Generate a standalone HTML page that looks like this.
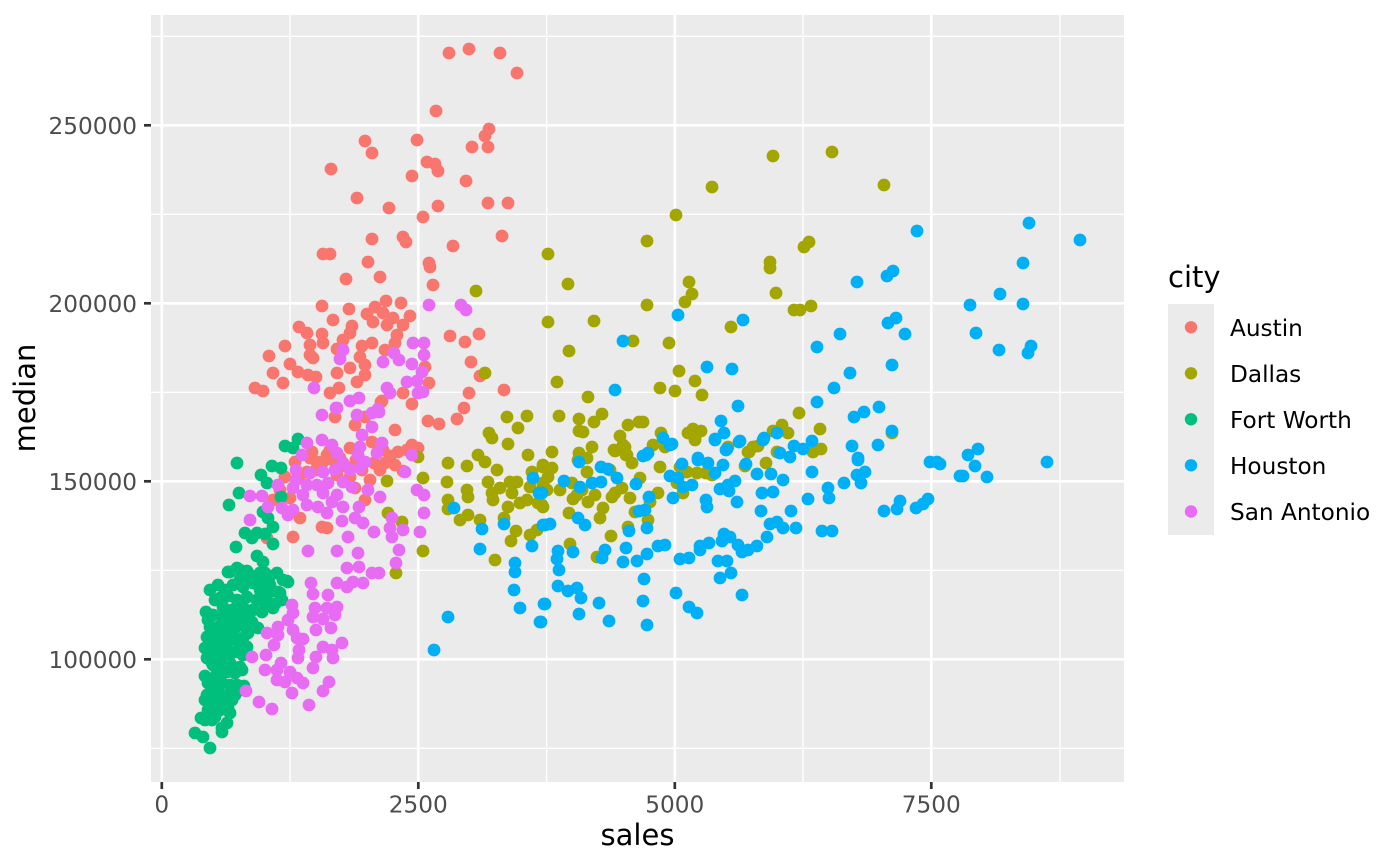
<!DOCTYPE html>
<html><head><meta charset="utf-8"><style>
html,body{margin:0;padding:0;background:#fff;}
svg{display:block;}
text{font-family:"DejaVu Sans","Liberation Sans",sans-serif;}
</style></head><body>
<svg width="1400" height="866" viewBox="0 0 1400 866" xmlns="http://www.w3.org/2000/svg">
<rect x="0" y="0" width="1400" height="866" fill="#fff"/>
<rect x="151" y="15" width="973" height="767" fill="#EBEBEB"/>
<g stroke="#fff" stroke-width="1.4">
<line x1="151" x2="1124" y1="36.3" y2="36.3"/><line x1="151" x2="1124" y1="214.3" y2="214.3"/><line x1="151" x2="1124" y1="392.3" y2="392.3"/><line x1="151" x2="1124" y1="570.3" y2="570.3"/><line x1="151" x2="1124" y1="748.3" y2="748.3"/>
<line y1="15" y2="782" x1="290" x2="290"/><line y1="15" y2="782" x1="546.6" x2="546.6"/><line y1="15" y2="782" x1="803" x2="803"/><line y1="15" y2="782" x1="1060" x2="1060"/>
</g>
<g stroke="#fff" stroke-width="2.7">
<line x1="151" x2="1124" y1="125.3" y2="125.3"/><line x1="151" x2="1124" y1="303.3" y2="303.3"/><line x1="151" x2="1124" y1="481.3" y2="481.3"/><line x1="151" x2="1124" y1="659.3" y2="659.3"/>
<line y1="15" y2="782" x1="161.8" x2="161.8"/><line y1="15" y2="782" x1="418.3" x2="418.3"/><line y1="15" y2="782" x1="674.8" x2="674.8"/><line y1="15" y2="782" x1="931.3" x2="931.3"/>
</g>
<g stroke="#333" stroke-width="2.7">
<line x1="144" x2="151" y1="125.3" y2="125.3"/><line x1="144" x2="151" y1="303.3" y2="303.3"/><line x1="144" x2="151" y1="481.3" y2="481.3"/><line x1="144" x2="151" y1="659.3" y2="659.3"/>
<line y1="782" y2="789" x1="161.8" x2="161.8"/><line y1="782" y2="789" x1="418.3" x2="418.3"/><line y1="782" y2="789" x1="674.8" x2="674.8"/><line y1="782" y2="789" x1="931.3" x2="931.3"/>
</g>
<g font-size="23.2" fill="#4D4D4D" text-anchor="end">
<text x="137" y="133.8">250000</text><text x="137" y="311.8">200000</text><text x="137" y="489.8">150000</text><text x="137" y="667.8">100000</text>
</g>
<g font-size="23.2" fill="#4D4D4D" text-anchor="middle">
<text x="161.8" y="812.7">0</text><text x="418.3" y="812.7">2500</text><text x="674.8" y="812.7">5000</text><text x="931.3" y="812.7">7500</text>
</g>
<text x="637.5" y="845" font-size="29" text-anchor="middle" fill="#000">sales</text>
<text transform="translate(35,398) rotate(-90)" font-size="29" text-anchor="middle" fill="#000">median</text>

<g fill="#F8766D">
<circle cx="449" cy="53" r="6.4"/><circle cx="469" cy="49" r="6.4"/><circle cx="500" cy="53" r="6.4"/><circle cx="517" cy="73" r="6.4"/><circle cx="436" cy="111" r="6.4"/><circle cx="489" cy="129" r="6.4"/><circle cx="485" cy="136" r="6.4"/><circle cx="472" cy="147" r="6.4"/><circle cx="488" cy="147" r="6.4"/><circle cx="365" cy="141" r="6.4"/><circle cx="372" cy="153" r="6.4"/><circle cx="417" cy="140" r="6.4"/><circle cx="331" cy="169" r="6.4"/><circle cx="427" cy="162" r="6.4"/><circle cx="435" cy="164" r="6.4"/><circle cx="438" cy="171" r="6.4"/><circle cx="412" cy="176" r="6.4"/><circle cx="466" cy="181" r="6.4"/><circle cx="357" cy="198" r="6.4"/><circle cx="389" cy="208" r="6.4"/><circle cx="438" cy="206" r="6.4"/><circle cx="423" cy="217" r="6.4"/><circle cx="488" cy="203" r="6.4"/><circle cx="508" cy="203" r="6.4"/><circle cx="372" cy="239" r="6.4"/><circle cx="403" cy="237" r="6.4"/><circle cx="406" cy="242" r="6.4"/><circle cx="453" cy="246" r="6.4"/><circle cx="502" cy="236" r="6.4"/><circle cx="323" cy="254" r="6.4"/><circle cx="330" cy="254" r="6.4"/><circle cx="368" cy="262" r="6.4"/><circle cx="429" cy="263" r="6.4"/><circle cx="430" cy="267" r="6.4"/><circle cx="346" cy="279" r="6.4"/><circle cx="380" cy="277" r="6.4"/><circle cx="433" cy="285" r="6.4"/>
<circle cx="322" cy="306" r="6.4"/><circle cx="349" cy="309" r="6.4"/><circle cx="375" cy="307" r="6.4"/><circle cx="386" cy="301" r="6.4"/><circle cx="401" cy="303" r="6.4"/><circle cx="333" cy="320" r="6.4"/><circle cx="367" cy="314" r="6.4"/><circle cx="383" cy="313" r="6.4"/><circle cx="393" cy="318" r="6.4"/><circle cx="410" cy="316" r="6.4"/><circle cx="373" cy="322" r="6.4"/><circle cx="387" cy="325" r="6.4"/><circle cx="403" cy="325" r="6.4"/><circle cx="352" cy="326" r="6.4"/><circle cx="350" cy="333" r="6.4"/><circle cx="299" cy="327" r="6.4"/><circle cx="307" cy="333" r="6.4"/><circle cx="322" cy="334" r="6.4"/><circle cx="397" cy="335" r="6.4"/><circle cx="395" cy="343" r="6.4"/><circle cx="372" cy="343" r="6.4"/><circle cx="362" cy="346" r="6.4"/><circle cx="343" cy="340" r="6.4"/><circle cx="337" cy="349" r="6.4"/><circle cx="323" cy="343" r="6.4"/><circle cx="310" cy="345" r="6.4"/><circle cx="285" cy="346" r="6.4"/><circle cx="269" cy="356" r="6.4"/><circle cx="310" cy="355" r="6.4"/><circle cx="313" cy="358" r="6.4"/><circle cx="360" cy="357" r="6.4"/><circle cx="365" cy="365" r="6.4"/><circle cx="350" cy="368" r="6.4"/><circle cx="385" cy="350" r="6.4"/><circle cx="290" cy="364" r="6.4"/><circle cx="298" cy="372" r="6.4"/><circle cx="273" cy="373" r="6.4"/><circle cx="308" cy="375" r="6.4"/><circle cx="316" cy="377" r="6.4"/><circle cx="337" cy="373" r="6.4"/><circle cx="357" cy="382" r="6.4"/><circle cx="365" cy="375" r="6.4"/><circle cx="283" cy="383" r="6.4"/><circle cx="255" cy="388" r="6.4"/><circle cx="263" cy="391" r="6.4"/><circle cx="330" cy="393" r="6.4"/><circle cx="339" cy="388" r="6.4"/><circle cx="382" cy="401" r="6.4"/><circle cx="403" cy="393" r="6.4"/><circle cx="412" cy="404" r="6.4"/><circle cx="425" cy="367" r="6.4"/><circle cx="429" cy="383" r="6.4"/><circle cx="450" cy="336" r="6.4"/><circle cx="465" cy="342" r="6.4"/><circle cx="479" cy="334" r="6.4"/><circle cx="471" cy="362" r="6.4"/><circle cx="480" cy="376" r="6.4"/><circle cx="469" cy="393" r="6.4"/><circle cx="504" cy="390" r="6.4"/><circle cx="464" cy="408" r="6.4"/>
<circle cx="335" cy="417" r="6.4"/><circle cx="355" cy="425" r="6.4"/><circle cx="381" cy="402" r="6.4"/><circle cx="428" cy="421" r="6.4"/><circle cx="439" cy="424" r="6.4"/><circle cx="457" cy="419" r="6.4"/><circle cx="365" cy="417" r="6.4"/><circle cx="350" cy="448" r="6.4"/><circle cx="372" cy="442" r="6.4"/><circle cx="383" cy="450" r="6.4"/><circle cx="385" cy="463" r="6.4"/><circle cx="407" cy="450" r="6.4"/><circle cx="412" cy="445" r="6.4"/><circle cx="418" cy="448" r="6.4"/><circle cx="403" cy="471" r="6.4"/><circle cx="310" cy="458" r="6.4"/><circle cx="317" cy="462" r="6.4"/><circle cx="320" cy="467" r="6.4"/><circle cx="327" cy="455" r="6.4"/><circle cx="307" cy="472" r="6.4"/><circle cx="285" cy="477" r="6.4"/><circle cx="365" cy="500" r="6.4"/><circle cx="300" cy="518" r="6.4"/><circle cx="322" cy="527" r="6.4"/><circle cx="327" cy="528" r="6.4"/><circle cx="293" cy="537" r="6.4"/><circle cx="267" cy="538" r="6.4"/><circle cx="273" cy="500" r="6.4"/><circle cx="350" cy="477" r="6.4"/><circle cx="337" cy="475" r="6.4"/>
<circle cx="316" cy="470" r="6.4"/><circle cx="323" cy="462" r="6.4"/><circle cx="333" cy="460" r="6.4"/><circle cx="340" cy="458" r="6.4"/><circle cx="345" cy="466" r="6.4"/><circle cx="356" cy="460" r="6.4"/><circle cx="362" cy="470" r="6.4"/><circle cx="374" cy="463" r="6.4"/><circle cx="390" cy="456" r="6.4"/><circle cx="398" cy="452" r="6.4"/><circle cx="330" cy="450" r="6.4"/><circle cx="312" cy="452" r="6.4"/><circle cx="295" cy="462" r="6.4"/><circle cx="300" cy="475" r="6.4"/><circle cx="280" cy="490" r="6.4"/><circle cx="290" cy="498" r="6.4"/><circle cx="355" cy="488" r="6.4"/><circle cx="370" cy="480" r="6.4"/><circle cx="380" cy="470" r="6.4"/><circle cx="395" cy="465" r="6.4"/><circle cx="395" cy="430" r="6.4"/>
</g>

<g fill="#A3A500">
<circle cx="548" cy="254" r="6.4"/><circle cx="476" cy="291" r="6.4"/><circle cx="548" cy="322" r="6.4"/><circle cx="485" cy="373" r="6.4"/>
<circle cx="387" cy="481" r="6.4"/><circle cx="418" cy="457" r="6.4"/><circle cx="423" cy="478" r="6.4"/><circle cx="388" cy="513" r="6.4"/><circle cx="402" cy="522" r="6.4"/><circle cx="423" cy="551" r="6.4"/><circle cx="396" cy="573" r="6.4"/><circle cx="448" cy="463" r="6.4"/><circle cx="467" cy="466" r="6.4"/><circle cx="478" cy="455" r="6.4"/><circle cx="485" cy="462" r="6.4"/><circle cx="489" cy="433" r="6.4"/><circle cx="492" cy="438" r="6.4"/><circle cx="507" cy="417" r="6.4"/><circle cx="527" cy="416" r="6.4"/><circle cx="518" cy="428" r="6.4"/><circle cx="508" cy="444" r="6.4"/><circle cx="528" cy="455" r="6.4"/><circle cx="497" cy="470" r="6.4"/><circle cx="532" cy="472" r="6.4"/><circle cx="543" cy="467" r="6.4"/><circle cx="447" cy="482" r="6.4"/><circle cx="488" cy="482" r="6.4"/><circle cx="510" cy="482" r="6.4"/><circle cx="517" cy="482" r="6.4"/><circle cx="467" cy="490" r="6.4"/><circle cx="468" cy="497" r="6.4"/><circle cx="492" cy="493" r="6.4"/><circle cx="500" cy="488" r="6.4"/><circle cx="512" cy="493" r="6.4"/><circle cx="530" cy="487" r="6.4"/><circle cx="543" cy="483" r="6.4"/><circle cx="448" cy="500" r="6.4"/><circle cx="448" cy="509" r="6.4"/><circle cx="493" cy="500" r="6.4"/><circle cx="508" cy="507" r="6.4"/><circle cx="520" cy="503" r="6.4"/><circle cx="527" cy="500" r="6.4"/><circle cx="538" cy="503" r="6.4"/><circle cx="543" cy="507" r="6.4"/><circle cx="460" cy="520" r="6.4"/><circle cx="468" cy="515" r="6.4"/><circle cx="480" cy="520" r="6.4"/><circle cx="504" cy="518" r="6.4"/><circle cx="516" cy="531" r="6.4"/><circle cx="511" cy="541" r="6.4"/><circle cx="530" cy="535" r="6.4"/><circle cx="537" cy="530" r="6.4"/><circle cx="495" cy="560" r="6.4"/>
<circle cx="773" cy="156" r="6.4"/><circle cx="832" cy="152" r="6.4"/><circle cx="884" cy="185" r="6.4"/><circle cx="712" cy="187" r="6.4"/><circle cx="676" cy="215" r="6.4"/><circle cx="647" cy="241" r="6.4"/><circle cx="809" cy="242" r="6.4"/><circle cx="804" cy="247" r="6.4"/><circle cx="770" cy="262" r="6.4"/><circle cx="770" cy="268" r="6.4"/><circle cx="568" cy="284" r="6.4"/><circle cx="689" cy="282" r="6.4"/><circle cx="692" cy="294" r="6.4"/><circle cx="685" cy="302" r="6.4"/><circle cx="776" cy="293" r="6.4"/><circle cx="647" cy="305" r="6.4"/><circle cx="794" cy="310" r="6.4"/><circle cx="800" cy="310" r="6.4"/><circle cx="811" cy="306" r="6.4"/><circle cx="594" cy="321" r="6.4"/><circle cx="731" cy="327" r="6.4"/><circle cx="633" cy="341" r="6.4"/><circle cx="669" cy="343" r="6.4"/><circle cx="569" cy="351" r="6.4"/><circle cx="679" cy="371" r="6.4"/><circle cx="695" cy="381" r="6.4"/><circle cx="557" cy="382" r="6.4"/><circle cx="660" cy="388" r="6.4"/><circle cx="675" cy="391" r="6.4"/><circle cx="702" cy="395" r="6.4"/><circle cx="588" cy="397" r="6.4"/><circle cx="799" cy="413" r="6.4"/><circle cx="559" cy="416" r="6.4"/><circle cx="579" cy="419" r="6.4"/><circle cx="602" cy="414" r="6.4"/><circle cx="594" cy="422" r="6.4"/><circle cx="639" cy="422" r="6.4"/><circle cx="643" cy="422" r="6.4"/><circle cx="628" cy="425" r="6.4"/><circle cx="579" cy="431" r="6.4"/><circle cx="583" cy="432" r="6.4"/><circle cx="620" cy="436" r="6.4"/><circle cx="661" cy="433" r="6.4"/><circle cx="688" cy="433" r="6.4"/><circle cx="693" cy="429" r="6.4"/><circle cx="701" cy="431" r="6.4"/><circle cx="695" cy="438" r="6.4"/><circle cx="773" cy="431" r="6.4"/><circle cx="782" cy="425" r="6.4"/><circle cx="788" cy="433" r="6.4"/><circle cx="820" cy="429" r="6.4"/><circle cx="892" cy="433" r="6.4"/><circle cx="552" cy="452" r="6.4"/><circle cx="592" cy="447" r="6.4"/><circle cx="614" cy="450" r="6.4"/><circle cx="623" cy="445" r="6.4"/><circle cx="653" cy="445" r="6.4"/><circle cx="665" cy="447" r="6.4"/><circle cx="728" cy="447" r="6.4"/><circle cx="749" cy="452" r="6.4"/><circle cx="758" cy="446" r="6.4"/><circle cx="813" cy="452" r="6.4"/><circle cx="821" cy="449" r="6.4"/><circle cx="579" cy="453" r="6.4"/><circle cx="626" cy="455" r="6.4"/><circle cx="777" cy="452" r="6.4"/>
<circle cx="543" cy="465" r="6.4"/><circle cx="552" cy="468" r="6.4"/><circle cx="548" cy="477" r="6.4"/><circle cx="543" cy="485" r="6.4"/><circle cx="547" cy="490" r="6.4"/><circle cx="542" cy="505" r="6.4"/><circle cx="560" cy="490" r="6.4"/><circle cx="572" cy="483" r="6.4"/><circle cx="577" cy="495" r="6.4"/><circle cx="573" cy="499" r="6.4"/><circle cx="582" cy="490" r="6.4"/><circle cx="587" cy="472" r="6.4"/><circle cx="578" cy="460" r="6.4"/><circle cx="587" cy="458" r="6.4"/><circle cx="610" cy="470" r="6.4"/><circle cx="615" cy="451" r="6.4"/><circle cx="625" cy="447" r="6.4"/><circle cx="627" cy="455" r="6.4"/><circle cx="632" cy="463" r="6.4"/><circle cx="660" cy="467" r="6.4"/><circle cx="640" cy="478" r="6.4"/><circle cx="622" cy="488" r="6.4"/><circle cx="615" cy="493" r="6.4"/><circle cx="612" cy="497" r="6.4"/><circle cx="595" cy="495" r="6.4"/><circle cx="588" cy="502" r="6.4"/><circle cx="603" cy="508" r="6.4"/><circle cx="600" cy="518" r="6.4"/><circle cx="569" cy="513" r="6.4"/><circle cx="630" cy="498" r="6.4"/><circle cx="635" cy="512" r="6.4"/><circle cx="658" cy="493" r="6.4"/><circle cx="650" cy="502" r="6.4"/><circle cx="648" cy="520" r="6.4"/><circle cx="628" cy="527" r="6.4"/><circle cx="611" cy="536" r="6.4"/><circle cx="570" cy="544" r="6.4"/><circle cx="597" cy="557" r="6.4"/><circle cx="680" cy="467" r="6.4"/><circle cx="687" cy="472" r="6.4"/><circle cx="677" cy="483" r="6.4"/><circle cx="683" cy="493" r="6.4"/><circle cx="697" cy="473" r="6.4"/><circle cx="706" cy="473" r="6.4"/><circle cx="712" cy="475" r="6.4"/><circle cx="745" cy="466" r="6.4"/><circle cx="766" cy="463" r="6.4"/><circle cx="753" cy="447" r="6.4"/><circle cx="748" cy="452" r="6.4"/><circle cx="695" cy="440" r="6.4"/>
</g>

<g fill="#00BF7D">
<circle cx="298" cy="439" r="6.4"/><circle cx="285" cy="446" r="6.4"/><circle cx="293" cy="448" r="6.4"/><circle cx="237" cy="463" r="6.4"/><circle cx="272" cy="466" r="6.4"/><circle cx="281" cy="468" r="6.4"/><circle cx="261" cy="475" r="6.4"/><circle cx="267" cy="483" r="6.4"/><circle cx="239" cy="493" r="6.4"/><circle cx="281" cy="497" r="6.4"/><circle cx="229" cy="505" r="6.4"/><circle cx="263" cy="512" r="6.4"/><circle cx="268" cy="518" r="6.4"/><circle cx="273" cy="527" r="6.4"/><circle cx="245" cy="533" r="6.4"/><circle cx="252" cy="538" r="6.4"/><circle cx="257" cy="533" r="6.4"/><circle cx="265" cy="534" r="6.4"/><circle cx="273" cy="544" r="6.4"/><circle cx="236" cy="547" r="6.4"/><circle cx="257" cy="556" r="6.4"/><circle cx="263" cy="562" r="6.4"/>
<circle cx="230" cy="572" r="6.4"/><circle cx="237" cy="568" r="6.4"/><circle cx="247" cy="571" r="6.4"/><circle cx="265" cy="573" r="6.4"/><circle cx="277" cy="573" r="6.4"/><circle cx="287" cy="581" r="6.4"/><circle cx="225" cy="590" r="6.4"/><circle cx="233" cy="585" r="6.4"/><circle cx="243" cy="587" r="6.4"/><circle cx="253" cy="583" r="6.4"/><circle cx="260" cy="590" r="6.4"/><circle cx="270" cy="592" r="6.4"/><circle cx="278" cy="592" r="6.4"/><circle cx="282" cy="600" r="6.4"/><circle cx="237" cy="600" r="6.4"/><circle cx="247" cy="597" r="6.4"/><circle cx="257" cy="600" r="6.4"/><circle cx="267" cy="602" r="6.4"/><circle cx="273" cy="608" r="6.4"/><circle cx="223" cy="607" r="6.4"/><circle cx="232" cy="610" r="6.4"/><circle cx="243" cy="607" r="6.4"/><circle cx="253" cy="610" r="6.4"/><circle cx="262" cy="612" r="6.4"/><circle cx="213" cy="615" r="6.4"/><circle cx="222" cy="617" r="6.4"/><circle cx="230" cy="620" r="6.4"/><circle cx="240" cy="617" r="6.4"/><circle cx="252" cy="622" r="6.4"/><circle cx="210" cy="627" r="6.4"/><circle cx="218" cy="627" r="6.4"/><circle cx="227" cy="625" r="6.4"/><circle cx="235" cy="628" r="6.4"/><circle cx="248" cy="633" r="6.4"/><circle cx="207" cy="637" r="6.4"/><circle cx="215" cy="633" r="6.4"/><circle cx="223" cy="635" r="6.4"/><circle cx="232" cy="633" r="6.4"/><circle cx="210" cy="647" r="6.4"/><circle cx="227" cy="643" r="6.4"/><circle cx="240" cy="643" r="6.4"/><circle cx="247" cy="647" r="6.4"/><circle cx="215" cy="653" r="6.4"/><circle cx="225" cy="653" r="6.4"/><circle cx="235" cy="652" r="6.4"/><circle cx="243" cy="655" r="6.4"/><circle cx="212" cy="663" r="6.4"/><circle cx="222" cy="662" r="6.4"/><circle cx="230" cy="663" r="6.4"/><circle cx="240" cy="667" r="6.4"/><circle cx="217" cy="673" r="6.4"/><circle cx="227" cy="672" r="6.4"/><circle cx="235" cy="673" r="6.4"/><circle cx="242" cy="670" r="6.4"/><circle cx="208" cy="683" r="6.4"/><circle cx="222" cy="683" r="6.4"/><circle cx="230" cy="685" r="6.4"/><circle cx="237" cy="685" r="6.4"/><circle cx="207" cy="695" r="6.4"/><circle cx="215" cy="697" r="6.4"/><circle cx="227" cy="703" r="6.4"/><circle cx="208" cy="710" r="6.4"/><circle cx="220" cy="710" r="6.4"/><circle cx="228" cy="708" r="6.4"/><circle cx="212" cy="720" r="6.4"/><circle cx="227" cy="723" r="6.4"/><circle cx="222" cy="732" r="6.4"/><circle cx="195" cy="733" r="6.4"/><circle cx="203" cy="737" r="6.4"/><circle cx="210" cy="748" r="6.4"/><circle cx="205" cy="700" r="6.4"/>
<circle cx="250" cy="578" r="6.4"/><circle cx="262" cy="580" r="6.4"/><circle cx="240" cy="580" r="6.4"/><circle cx="270" cy="585" r="6.4"/><circle cx="220" cy="598" r="6.4"/><circle cx="228" cy="596" r="6.4"/><circle cx="213" cy="640" r="6.4"/><circle cx="218" cy="660" r="6.4"/><circle cx="232" cy="690" r="6.4"/><circle cx="216" cy="690" r="6.4"/><circle cx="205" cy="676" r="6.4"/><circle cx="245" cy="625" r="6.4"/><circle cx="258" cy="628" r="6.4"/><circle cx="228" cy="655" r="6.4"/><circle cx="220" cy="645" r="6.4"/>
<circle cx="228" cy="572" r="6.4"/><circle cx="240" cy="570" r="6.4"/><circle cx="250" cy="575" r="6.4"/><circle cx="260" cy="573" r="6.4"/><circle cx="270" cy="576" r="6.4"/><circle cx="283" cy="580" r="6.4"/><circle cx="288" cy="582" r="6.4"/><circle cx="210" cy="590" r="6.4"/><circle cx="215" cy="600" r="6.4"/><circle cx="206" cy="612" r="6.4"/><circle cx="208" cy="620" r="6.4"/><circle cx="218" cy="585" r="6.4"/><circle cx="260" cy="600" r="6.4"/><circle cx="275" cy="604" r="6.4"/><circle cx="280" cy="593" r="6.4"/><circle cx="265" cy="590" r="6.4"/><circle cx="250" cy="612" r="6.4"/><circle cx="246" cy="628" r="6.4"/><circle cx="250" cy="620" r="6.4"/><circle cx="236" cy="640" r="6.4"/><circle cx="243" cy="638" r="6.4"/><circle cx="205" cy="648" r="6.4"/><circle cx="207" cy="658" r="6.4"/><circle cx="213" cy="665" r="6.4"/><circle cx="220" cy="668" r="6.4"/><circle cx="215" cy="680" r="6.4"/><circle cx="212" cy="690" r="6.4"/><circle cx="222" cy="695" r="6.4"/><circle cx="224" cy="700" r="6.4"/><circle cx="218" cy="702" r="6.4"/><circle cx="212" cy="707" r="6.4"/><circle cx="232" cy="700" r="6.4"/><circle cx="230" cy="713" r="6.4"/><circle cx="240" cy="690" r="6.4"/><circle cx="244" cy="686" r="6.4"/><circle cx="235" cy="695" r="6.4"/><circle cx="205" cy="720" r="6.4"/><circle cx="215" cy="717" r="6.4"/><circle cx="222" cy="728" r="6.4"/><circle cx="201" cy="718" r="6.4"/>
</g>

<g fill="#00B0F6">
<circle cx="533" cy="478" r="6.4"/><circle cx="539" cy="493" r="6.4"/><circle cx="454" cy="508" r="6.4"/><circle cx="482" cy="529" r="6.4"/><circle cx="504" cy="524" r="6.4"/><circle cx="545" cy="525" r="6.4"/><circle cx="480" cy="549" r="6.4"/><circle cx="532" cy="546" r="6.4"/><circle cx="515" cy="563" r="6.4"/><circle cx="515" cy="572" r="6.4"/><circle cx="514" cy="590" r="6.4"/><circle cx="520" cy="608" r="6.4"/><circle cx="544" cy="604" r="6.4"/><circle cx="540" cy="622" r="6.4"/><circle cx="448" cy="617" r="6.4"/><circle cx="434" cy="650" r="6.4"/>
<circle cx="917" cy="231" r="6.4"/><circle cx="857" cy="282" r="6.4"/><circle cx="887" cy="276" r="6.4"/><circle cx="893" cy="271" r="6.4"/><circle cx="678" cy="315" r="6.4"/><circle cx="743" cy="320" r="6.4"/><circle cx="888" cy="323" r="6.4"/><circle cx="896" cy="318" r="6.4"/><circle cx="623" cy="341" r="6.4"/><circle cx="840" cy="334" r="6.4"/><circle cx="905" cy="334" r="6.4"/><circle cx="817" cy="347" r="6.4"/><circle cx="707" cy="367" r="6.4"/><circle cx="732" cy="369" r="6.4"/><circle cx="892" cy="365" r="6.4"/><circle cx="615" cy="390" r="6.4"/><circle cx="850" cy="373" r="6.4"/><circle cx="834" cy="388" r="6.4"/><circle cx="738" cy="406" r="6.4"/><circle cx="817" cy="402" r="6.4"/><circle cx="879" cy="407" r="6.4"/><circle cx="854" cy="417" r="6.4"/><circle cx="864" cy="412" r="6.4"/><circle cx="721" cy="421" r="6.4"/><circle cx="892" cy="431" r="6.4"/><circle cx="777" cy="433" r="6.4"/><circle cx="663" cy="438" r="6.4"/><circle cx="672" cy="444" r="6.4"/><circle cx="715" cy="439" r="6.4"/><circle cx="724" cy="433" r="6.4"/><circle cx="740" cy="441" r="6.4"/><circle cx="764" cy="438" r="6.4"/><circle cx="726" cy="450" r="6.4"/><circle cx="794" cy="446" r="6.4"/><circle cx="803" cy="449" r="6.4"/><circle cx="812" cy="441" r="6.4"/><circle cx="852" cy="446" r="6.4"/><circle cx="878" cy="445" r="6.4"/><circle cx="780" cy="453" r="6.4"/><circle cx="646" cy="455" r="6.4"/><circle cx="698" cy="458" r="6.4"/><circle cx="858" cy="458" r="6.4"/><circle cx="930" cy="462" r="6.4"/><circle cx="937" cy="462" r="6.4"/>
<circle cx="960" cy="476" r="6.4"/><circle cx="858" cy="460" r="6.4"/><circle cx="857" cy="475" r="6.4"/><circle cx="865" cy="472" r="6.4"/><circle cx="861" cy="483" r="6.4"/><circle cx="844" cy="483" r="6.4"/><circle cx="828" cy="488" r="6.4"/><circle cx="829" cy="498" r="6.4"/><circle cx="812" cy="472" r="6.4"/><circle cx="808" cy="499" r="6.4"/><circle cx="790" cy="457" r="6.4"/><circle cx="783" cy="480" r="6.4"/><circle cx="771" cy="474" r="6.4"/><circle cx="757" cy="474" r="6.4"/><circle cx="762" cy="493" r="6.4"/><circle cx="773" cy="492" r="6.4"/><circle cx="791" cy="511" r="6.4"/><circle cx="761" cy="511" r="6.4"/><circle cx="770" cy="524" r="6.4"/><circle cx="777" cy="522" r="6.4"/><circle cx="783" cy="528" r="6.4"/><circle cx="796" cy="528" r="6.4"/><circle cx="767" cy="537" r="6.4"/><circle cx="822" cy="531" r="6.4"/><circle cx="832" cy="531" r="6.4"/><circle cx="884" cy="511" r="6.4"/><circle cx="897" cy="509" r="6.4"/><circle cx="900" cy="501" r="6.4"/><circle cx="916" cy="508" r="6.4"/><circle cx="923" cy="504" r="6.4"/><circle cx="928" cy="499" r="6.4"/><circle cx="757" cy="546" r="6.4"/><circle cx="748" cy="550" r="6.4"/><circle cx="742" cy="552" r="6.4"/><circle cx="738" cy="545" r="6.4"/><circle cx="730" cy="537" r="6.4"/><circle cx="724" cy="534" r="6.4"/><circle cx="722" cy="541" r="6.4"/><circle cx="709" cy="543" r="6.4"/><circle cx="700" cy="546" r="6.4"/><circle cx="700" cy="550" r="6.4"/><circle cx="689" cy="558" r="6.4"/><circle cx="680" cy="559" r="6.4"/><circle cx="718" cy="561" r="6.4"/><circle cx="727" cy="561" r="6.4"/><circle cx="720" cy="578" r="6.4"/><circle cx="731" cy="573" r="6.4"/><circle cx="742" cy="595" r="6.4"/><circle cx="676" cy="593" r="6.4"/><circle cx="689" cy="607" r="6.4"/><circle cx="697" cy="613" r="6.4"/><circle cx="665" cy="545" r="6.4"/><circle cx="658" cy="546" r="6.4"/><circle cx="647" cy="554" r="6.4"/><circle cx="637" cy="561" r="6.4"/><circle cx="644" cy="579" r="6.4"/><circle cx="643" cy="601" r="6.4"/><circle cx="647" cy="625" r="6.4"/><circle cx="609" cy="621" r="6.4"/><circle cx="599" cy="603" r="6.4"/><circle cx="579" cy="614" r="6.4"/><circle cx="581" cy="598" r="6.4"/><circle cx="577" cy="588" r="6.4"/><circle cx="568" cy="591" r="6.4"/><circle cx="558" cy="586" r="6.4"/><circle cx="545" cy="604" r="6.4"/><circle cx="541" cy="622" r="6.4"/><circle cx="559" cy="570" r="6.4"/><circle cx="557" cy="559" r="6.4"/><circle cx="558" cy="551" r="6.4"/><circle cx="573" cy="552" r="6.4"/><circle cx="605" cy="550" r="6.4"/><circle cx="602" cy="558" r="6.4"/><circle cx="623" cy="562" r="6.4"/><circle cx="626" cy="548" r="6.4"/><circle cx="629" cy="531" r="6.4"/><circle cx="647" cy="528" r="6.4"/><circle cx="585" cy="525" r="6.4"/><circle cx="578" cy="518" r="6.4"/><circle cx="550" cy="524" r="6.4"/><circle cx="543" cy="525" r="6.4"/><circle cx="639" cy="511" r="6.4"/><circle cx="645" cy="510" r="6.4"/><circle cx="649" cy="497" r="6.4"/><circle cx="636" cy="484" r="6.4"/><circle cx="617" cy="478" r="6.4"/><circle cx="601" cy="482" r="6.4"/><circle cx="592" cy="483" r="6.4"/><circle cx="580" cy="487" r="6.4"/><circle cx="564" cy="481" r="6.4"/><circle cx="542" cy="493" r="6.4"/><circle cx="579" cy="462" r="6.4"/><circle cx="601" cy="467" r="6.4"/><circle cx="608" cy="469" r="6.4"/><circle cx="643" cy="456" r="6.4"/><circle cx="648" cy="453" r="6.4"/><circle cx="670" cy="445" r="6.4"/><circle cx="673" cy="498" r="6.4"/><circle cx="670" cy="476" r="6.4"/><circle cx="682" cy="464" r="6.4"/><circle cx="678" cy="478" r="6.4"/><circle cx="683" cy="487" r="6.4"/><circle cx="692" cy="485" r="6.4"/><circle cx="698" cy="460" r="6.4"/><circle cx="708" cy="463" r="6.4"/><circle cx="715" cy="473" r="6.4"/><circle cx="723" cy="465" r="6.4"/><circle cx="727" cy="449" r="6.4"/><circle cx="739" cy="442" r="6.4"/><circle cx="746" cy="464" r="6.4"/><circle cx="720" cy="489" r="6.4"/><circle cx="728" cy="485" r="6.4"/><circle cx="735" cy="481" r="6.4"/><circle cx="729" cy="491" r="6.4"/><circle cx="737" cy="502" r="6.4"/><circle cx="706" cy="500" r="6.4"/><circle cx="707" cy="507" r="6.4"/><circle cx="715" cy="440" r="6.4"/><circle cx="763" cy="440" r="6.4"/>
<circle cx="1029" cy="223" r="6.4"/><circle cx="1080" cy="240" r="6.4"/><circle cx="1023" cy="263" r="6.4"/><circle cx="1000" cy="294" r="6.4"/><circle cx="970" cy="305" r="6.4"/><circle cx="1023" cy="304" r="6.4"/><circle cx="976" cy="333" r="6.4"/><circle cx="999" cy="350" r="6.4"/><circle cx="1031" cy="346" r="6.4"/><circle cx="1028" cy="353" r="6.4"/><circle cx="978" cy="449" r="6.4"/><circle cx="968" cy="455" r="6.4"/><circle cx="975" cy="466" r="6.4"/><circle cx="963" cy="476" r="6.4"/><circle cx="987" cy="477" r="6.4"/><circle cx="1047" cy="462" r="6.4"/><circle cx="940" cy="464" r="6.4"/>
</g>

<g fill="#E76BF3">
<circle cx="429" cy="305" r="6.4"/><circle cx="461" cy="305" r="6.4"/><circle cx="466" cy="310" r="6.4"/><circle cx="413" cy="343" r="6.4"/><circle cx="424" cy="343" r="6.4"/><circle cx="424" cy="355" r="6.4"/><circle cx="343" cy="350" r="6.4"/><circle cx="340" cy="359" r="6.4"/><circle cx="394" cy="353" r="6.4"/><circle cx="399" cy="360" r="6.4"/><circle cx="383" cy="362" r="6.4"/><circle cx="412" cy="364" r="6.4"/><circle cx="422" cy="372" r="6.4"/><circle cx="407" cy="382" r="6.4"/><circle cx="417" cy="381" r="6.4"/><circle cx="387" cy="388" r="6.4"/><circle cx="390" cy="393" r="6.4"/><circle cx="418" cy="393" r="6.4"/><circle cx="423" cy="392" r="6.4"/><circle cx="314" cy="388" r="6.4"/><circle cx="350" cy="401" r="6.4"/><circle cx="359" cy="398" r="6.4"/><circle cx="336" cy="408" r="6.4"/><circle cx="378" cy="409" r="6.4"/>
<circle cx="322" cy="415" r="6.4"/><circle cx="337" cy="408" r="6.4"/><circle cx="357" cy="415" r="6.4"/><circle cx="372" cy="413" r="6.4"/><circle cx="379" cy="412" r="6.4"/><circle cx="372" cy="427" r="6.4"/><circle cx="362" cy="435" r="6.4"/><circle cx="307" cy="443" r="6.4"/><circle cx="322" cy="440" r="6.4"/><circle cx="332" cy="445" r="6.4"/><circle cx="360" cy="447" r="6.4"/><circle cx="382" cy="443" r="6.4"/><circle cx="302" cy="455" r="6.4"/><circle cx="337" cy="453" r="6.4"/><circle cx="358" cy="455" r="6.4"/><circle cx="377" cy="453" r="6.4"/><circle cx="343" cy="463" r="6.4"/><circle cx="365" cy="462" r="6.4"/><circle cx="296" cy="470" r="6.4"/><circle cx="310" cy="473" r="6.4"/><circle cx="323" cy="472" r="6.4"/><circle cx="335" cy="470" r="6.4"/><circle cx="350" cy="470" r="6.4"/><circle cx="360" cy="468" r="6.4"/><circle cx="278" cy="485" r="6.4"/><circle cx="296" cy="480" r="6.4"/><circle cx="307" cy="485" r="6.4"/><circle cx="317" cy="485" r="6.4"/><circle cx="328" cy="483" r="6.4"/><circle cx="343" cy="482" r="6.4"/><circle cx="352" cy="487" r="6.4"/><circle cx="250" cy="496" r="6.4"/><circle cx="262" cy="496" r="6.4"/><circle cx="293" cy="488" r="6.4"/><circle cx="303" cy="495" r="6.4"/><circle cx="323" cy="493" r="6.4"/><circle cx="337" cy="495" r="6.4"/><circle cx="368" cy="490" r="6.4"/><circle cx="380" cy="497" r="6.4"/><circle cx="405" cy="472" r="6.4"/><circle cx="412" cy="455" r="6.4"/><circle cx="417" cy="490" r="6.4"/><circle cx="424" cy="495" r="6.4"/><circle cx="268" cy="507" r="6.4"/><circle cx="282" cy="508" r="6.4"/><circle cx="293" cy="510" r="6.4"/><circle cx="307" cy="505" r="6.4"/><circle cx="318" cy="507" r="6.4"/><circle cx="332" cy="502" r="6.4"/><circle cx="343" cy="507" r="6.4"/><circle cx="359" cy="507" r="6.4"/><circle cx="288" cy="515" r="6.4"/><circle cx="327" cy="513" r="6.4"/><circle cx="424" cy="513" r="6.4"/><circle cx="250" cy="520" r="6.4"/><circle cx="342" cy="521" r="6.4"/><circle cx="355" cy="518" r="6.4"/><circle cx="363" cy="523" r="6.4"/><circle cx="392" cy="518" r="6.4"/><circle cx="390" cy="528" r="6.4"/><circle cx="403" cy="530" r="6.4"/><circle cx="420" cy="532" r="6.4"/><circle cx="374" cy="532" r="6.4"/><circle cx="348" cy="537" r="6.4"/><circle cx="392" cy="537" r="6.4"/><circle cx="308" cy="551" r="6.4"/><circle cx="337" cy="551" r="6.4"/><circle cx="358" cy="553" r="6.4"/><circle cx="399" cy="550" r="6.4"/><circle cx="396" cy="563" r="6.4"/><circle cx="347" cy="568" r="6.4"/><circle cx="359" cy="567" r="6.4"/><circle cx="372" cy="573" r="6.4"/><circle cx="379" cy="573" r="6.4"/><circle cx="337" cy="583" r="6.4"/><circle cx="347" cy="587" r="6.4"/><circle cx="353" cy="582" r="6.4"/><circle cx="363" cy="583" r="6.4"/><circle cx="311" cy="583" r="6.4"/><circle cx="313" cy="594" r="6.4"/><circle cx="328" cy="595" r="6.4"/><circle cx="292" cy="605" r="6.4"/><circle cx="315" cy="608" r="6.4"/><circle cx="327" cy="608" r="6.4"/><circle cx="337" cy="607" r="6.4"/><circle cx="293" cy="613" r="6.4"/><circle cx="313" cy="617" r="6.4"/><circle cx="335" cy="615" r="6.4"/><circle cx="288" cy="620" r="6.4"/><circle cx="323" cy="619" r="6.4"/><circle cx="278" cy="627" r="6.4"/><circle cx="293" cy="630" r="6.4"/><circle cx="316" cy="630" r="6.4"/><circle cx="331" cy="628" r="6.4"/><circle cx="267" cy="633" r="6.4"/><circle cx="278" cy="635" r="6.4"/><circle cx="297" cy="638" r="6.4"/><circle cx="303" cy="639" r="6.4"/><circle cx="342" cy="643" r="6.4"/><circle cx="274" cy="645" r="6.4"/><circle cx="299" cy="650" r="6.4"/><circle cx="323" cy="647" r="6.4"/><circle cx="332" cy="650" r="6.4"/><circle cx="252" cy="657" r="6.4"/><circle cx="266" cy="655" r="6.4"/><circle cx="298" cy="658" r="6.4"/><circle cx="316" cy="657" r="6.4"/><circle cx="333" cy="658" r="6.4"/><circle cx="281" cy="663" r="6.4"/><circle cx="265" cy="670" r="6.4"/><circle cx="277" cy="670" r="6.4"/><circle cx="290" cy="672" r="6.4"/><circle cx="313" cy="668" r="6.4"/><circle cx="277" cy="680" r="6.4"/><circle cx="285" cy="682" r="6.4"/><circle cx="297" cy="678" r="6.4"/><circle cx="303" cy="683" r="6.4"/><circle cx="329" cy="682" r="6.4"/><circle cx="246" cy="691" r="6.4"/><circle cx="292" cy="693" r="6.4"/><circle cx="323" cy="691" r="6.4"/><circle cx="259" cy="702" r="6.4"/><circle cx="272" cy="709" r="6.4"/><circle cx="309" cy="705" r="6.4"/>
</g>

<text x="1168" y="287" font-size="29" fill="#000">city</text>
<rect x="1168" y="304" width="46" height="231" fill="#EBEBEB"/>
<circle cx="1191" cy="327.3" r="6.2" fill="#F8766D"/>
<circle cx="1191" cy="373.3" r="6.2" fill="#A3A500"/>
<circle cx="1191" cy="419.3" r="6.2" fill="#00BF7D"/>
<circle cx="1191" cy="465.3" r="6.2" fill="#00B0F6"/>
<circle cx="1191" cy="511.5" r="6.2" fill="#E76BF3"/>
<g font-size="23.2" fill="#000">
<text x="1230" y="336">Austin</text>
<text x="1230" y="382">Dallas</text>
<text x="1230" y="428">Fort Worth</text>
<text x="1230" y="474">Houston</text>
<text x="1230" y="520">San Antonio</text>
</g>
</svg>
</body></html>
